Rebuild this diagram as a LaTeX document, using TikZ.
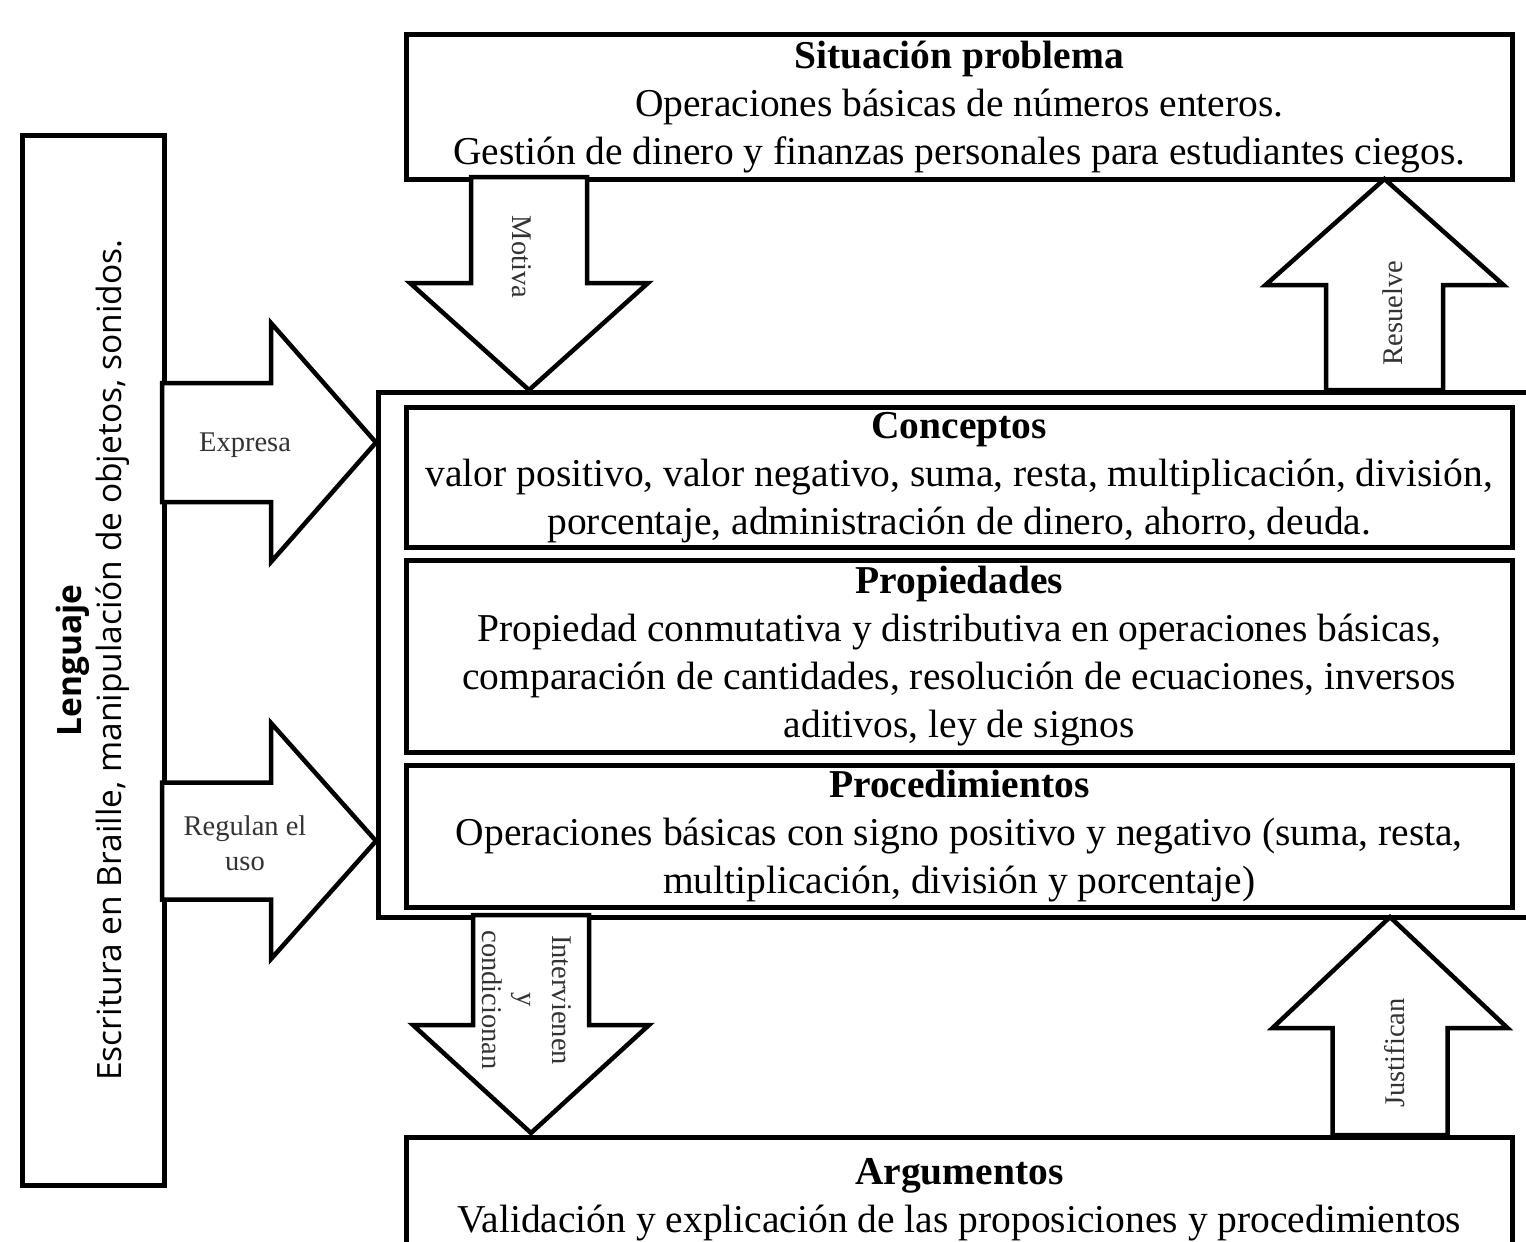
\documentclass[tikz,border=0pt]{standalone}
\usepackage{fontspec}
\setmainfont{Liberation Serif}
\newfontfamily\sansf{Open Sans}
\usetikzlibrary{calc}

% block arrows: centre, start, tip, shaft half width, head half width, head base
\newcommand\arrdown[6]{%
  \filldraw[blockarrow] (#1-#4,#2) -- (#1-#4,#6) -- (#1-#5,#6) -- (#1,#3)
    -- (#1+#5,#6) -- (#1+#4,#6) -- (#1+#4,#2) -- cycle;}
\newcommand\arrright[6]{%
  \filldraw[blockarrow] (#2,#1-#4) -- (#6,#1-#4) -- (#6,#1-#5) -- (#3,#1)
    -- (#6,#1+#5) -- (#6,#1+#4) -- (#2,#1+#4) -- cycle;}

\tikzset{
  box/.style={draw=black, line width=4.5pt, fill=white, inner sep=0pt, align=center},
  blockarrow/.style={draw=black, fill=white, line width=4.5pt, line join=miter},
  maintext/.style={font=\fontsize{39.5}{48}\selectfont},
  lbl/.style={font=\fontsize{28.5}{35}\selectfont, text=black!80, align=center, inner sep=0pt},
}

\begin{document}
\begin{tikzpicture}[x=1pt, y=-1pt]
\useasboundingbox (0,0) rectangle (1526,1242);
\clip (0,0) rectangle (1526,1242);
\fill[white] (0,0) rectangle (1526,1242);

% language column
\node[box, minimum width=142, minimum height=1050, anchor=north west] (leng) at (20,133) {};
\node[rotate=90, align=center, inner sep=0pt, font=\sansf\fontsize{33.5}{40}\selectfont]
  (lengtxt) at (leng.center) {\textbf{Lenguaje}\\Escritura en Braille, manipulación de objetos, sonidos.};

% problem situation
\node[box, maintext, minimum width=1106, minimum height=145, anchor=north west] (sit) at (404,32)
  {\textbf{Situación problema}\\Operaciones básicas de números enteros.\\Gestión de dinero y finanzas personales para estudiantes ciegos.};

% container of concepts, properties and procedures
\node[box, minimum width=1170, minimum height=525, anchor=north west] (cont) at (376,390) {};

\node[box, maintext, minimum width=1106, minimum height=140, anchor=north west] (conc) at (404,405)
  {\textbf{Conceptos}\\valor positivo, valor negativo, suma, resta, multiplicación, división,\\porcentaje, administración de dinero, ahorro, deuda.};
\node[box, maintext, minimum width=1106, minimum height=192, anchor=north west] (prop) at (404,558)
  {\textbf{Propiedades}\\Propiedad conmutativa y distributiva en operaciones básicas,\\comparación de cantidades, resolución de ecuaciones, inversos\\aditivos, ley de signos};
\node[box, maintext, minimum width=1106, minimum height=142, anchor=north west] (proc) at (404,763)
  {\textbf{Procedimientos}\\Operaciones básicas con signo positivo y negativo (suma, resta,\\multiplicación, división y porcentaje)};

% arguments
\node[box, maintext, minimum width=1106, minimum height=124, anchor=north west] (arg) at (404,1135)
  {\textbf{Argumentos}\\Validación y explicación de las proposiciones y procedimientos};

% block arrows
\arrdown{529}{177}{390}{58}{119}{283}
\node[lbl, rotate=-90] (motiva) at (522,257) {Motiva};

\arrdown{1384.5}{390}{179}{58.5}{119}{285}
\node[lbl, rotate=90] (resuelve) at (1393,313) {Resuelve};

\arrright{442.5}{162}{376}{59.5}{119.5}{271}
\node[lbl] (expresa) at (245,445) {Expresa};

\arrright{841}{162}{376}{58.5}{118}{271}
\node[lbl] (regulan) at (245,843) {Regulan el\\uso};

\arrdown{531}{915}{1133}{58}{118}{1025}
\node[lbl, rotate=-90] (interv) at (527,1000) {Intervienen\\y\\condicionan};

\arrdown{1390}{1135}{917}{57.5}{117.5}{1028}
\node[lbl, rotate=90] (justif) at (1395,1053) {Justifican};
\end{tikzpicture}
\end{document}
